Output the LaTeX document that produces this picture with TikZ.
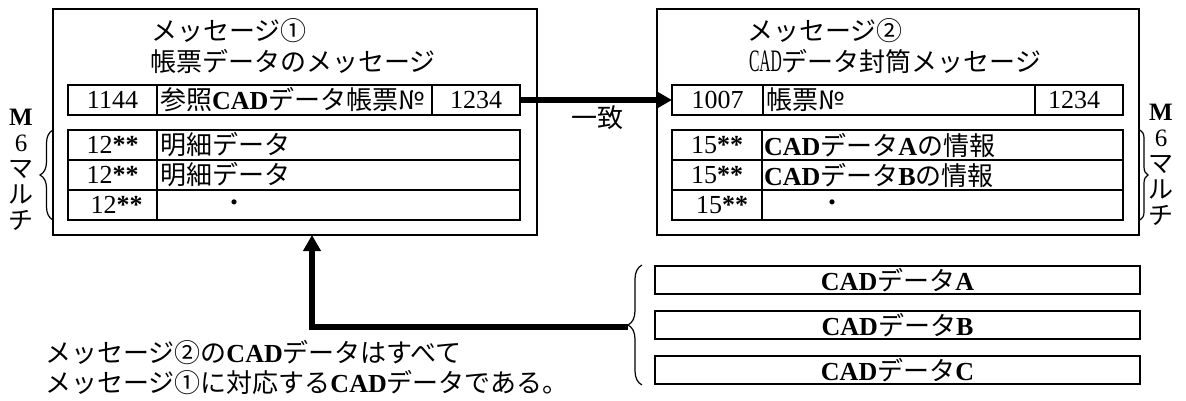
\documentclass[tikz,border=0pt]{standalone}
\usepackage{fontspec}
\usepackage{graphicx}
\setmainfont{Liberation Serif}
\newfontfamily\jp{Noto Sans CJK JP}
\usetikzlibrary{arrows.meta,decorations.pathreplacing,calc}
\newcommand\fsz{\fontsize{26}{30}\selectfont}
\newcommand\J[1]{{\jp #1}}
\newcommand\B[1]{\textbf{#1}}
\begin{document}
\begin{tikzpicture}[x=1pt,y=-1pt,
  every node/.style={font=\fsz, inner sep=0pt, outer sep=0pt},
  frame/.style={draw, line width=2.2pt, anchor=north west},
  cell/.style={draw, line width=2.2pt, anchor=north west, minimum height=30pt},
  cadbox/.style={draw, line width=2.2pt, anchor=north west, minimum width=485pt, minimum height=28pt},
  ltext/.style={anchor=west},
  side/.style={font=\fontsize{25}{26}\selectfont, align=center},
  dotmark/.style={font=\fontsize{24}{24}\selectfont},
  brc/.style={decorate, line width=1.2pt},
  bigarrow/.style={line width=5.5pt, -{Triangle[length=16pt,width=17pt]}}
]
\useasboundingbox (0,0) rectangle (1186,401);

% ---------- left message ----------
\node[frame, minimum width=484pt, minimum height=226pt] (L) at (53,9) {};
\node[ltext] (Lt1) at (151,31) {\J{メッセージ①}};
\node[ltext] (Lt2) at (150,61) {\J{帳票データのメッセージ}};

\node[cell, minimum width=89pt] (Lh1) at (68,85) {1144};
\node[cell, minimum width=275pt] (Lh2) at (157,85) {};
\node[ltext] (Lh2t) at ([xshift=3pt]Lh2.west) {\J{参照}\B{CAD}\J{データ帳票№}};
\node[cell, minimum width=88pt] (Lh3) at (432,85) {1234};

\node[cell, minimum width=89pt] (La1) at (68,130) {12\B{**}};
\node[cell, minimum width=363pt] (Lb1) at (157,130) {};
\node[ltext] (Lb1t) at ([xshift=3pt]Lb1.west) {\J{明細データ}};
\node[cell, minimum width=89pt] (La2) at (68,160) {12\B{**}};
\node[cell, minimum width=363pt] (Lb2) at (157,160) {};
\node[ltext] (Lb2t) at ([xshift=3pt]Lb2.west) {\J{明細データ}};
\node[cell, minimum width=89pt] (La3) at (68,190) {};
\node (La3t) at ([xshift=4pt]La3.center) {12\B{**}};
\node[cell, minimum width=363pt] (Lb3) at (157,190) {};
\node[dotmark] (Lb3t) at (234,206) {\J{・}};

% left brace and label
\draw[brc, decoration={brace, amplitude=13pt}] (53,220) -- (53,130);
\node[side, anchor=north] (lm) at (21,109) {\B{M}\\6\\\J{マ}\\\J{ル}\\\J{チ}};

% ---------- right message ----------
\node[frame, minimum width=482pt, minimum height=226pt] (R) at (657,9) {};
\node[ltext] (Rt1) at (747,31) {\J{メッセージ②}};
\node[ltext] (Rt2) at (749,61) {\scalebox{0.6}[1.2]{CAD}\J{データ封筒メッセージ}};

\node[cell, minimum width=91pt] (Rh1) at (672,85) {1007};
\node[cell, minimum width=272pt] (Rh2) at (763,85) {};
\node[ltext] (Rh2t) at ([xshift=3pt]Rh2.west) {\J{帳票№}};
\node[cell, minimum width=88pt] (Rh3) at (1035,85) {};
\node (Rh3t) at ([xshift=-5pt]Rh3.center) {1234};

\node[cell, minimum width=90pt] (Ra1) at (672,130) {15\B{**}};
\node[cell, minimum width=361pt] (Rb1) at (762,130) {};
\node[ltext] (Rb1t) at ([xshift=2pt]Rb1.west) {\B{CAD}\J{データ}\B{A}\J{の情報}};
\node[cell, minimum width=90pt] (Ra2) at (672,160) {15\B{**}};
\node[cell, minimum width=361pt] (Rb2) at (762,160) {};
\node[ltext] (Rb2t) at ([xshift=2pt]Rb2.west) {\B{CAD}\J{データ}\B{B}\J{の情報}};
\node[cell, minimum width=90pt] (Ra3) at (672,190) {};
\node (Ra3t) at ([xshift=5pt]Ra3.center) {15\B{**}};
\node[cell, minimum width=361pt] (Rb3) at (762,190) {};
\node[dotmark] (Rb3t) at (832,206) {\J{・}};

% right brace and label
\draw[brc, decoration={brace, amplitude=8pt}] (1140,130) -- (1140,220);
\node[side, anchor=north] (rm) at (1161,104) {\B{M}\\6\\\J{マ}\\\J{ル}\\\J{チ}};

% match arrow
\draw[bigarrow] (Lh3.east) -- (Rh1.west);
\node (match) at (597,118) {\J{一致}};

% ---------- CAD data ----------
\node[cadbox] (ca) at (655,266) {\B{CAD}\J{データ}\B{A}};
\node[cadbox] (cb) at (655,311) {\B{CAD}\J{データ}\B{B}};
\node[cadbox] (cc) at (655,356) {\B{CAD}\J{データ}\B{C}};
\draw[brc, decoration={brace, amplitude=14pt}] (642,385) -- (642,265);
\coordinate (bt) at (628,327);
\draw[bigarrow] (bt) -| ([xshift=259pt]L.south west);

% ---------- note ----------
\node[ltext] (n1) at (45,353) {\J{メッセージ②の}\B{CAD}\J{データはすべて}};
\node[ltext] (n2) at (45,383) {\J{メッセージ①に対応する}\B{CAD}\J{データである。}};
\end{tikzpicture}
\end{document}
